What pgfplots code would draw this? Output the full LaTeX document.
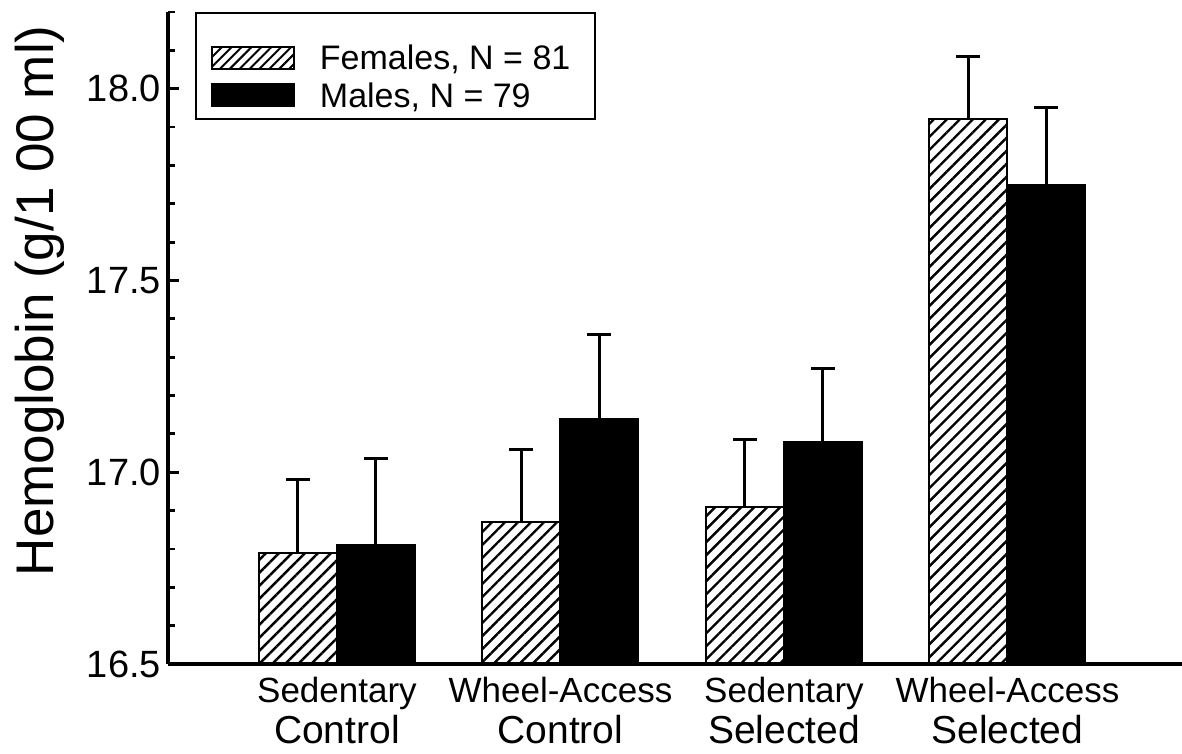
\documentclass[border=0pt]{standalone}
\usepackage{fontspec}
\setmainfont{Liberation Sans}
\usepackage{pgfplots}
\usepackage{pgfplotstable}
\pgfplotsset{compat=1.18}
\usetikzlibrary{patterns.meta}

\pgfplotstableread{
x y e
0 16.79 0.19
1 16.87 0.19
2 16.91 0.175
3 17.92 0.165
}\females
\pgfplotstableread{
x y e
0 16.81 0.225
1 17.14 0.22
2 17.08 0.19
3 17.75 0.20
}\males

\begin{document}
\begin{tikzpicture}
\begin{axis}[
  at={(0,0)}, anchor=south west,
  scale only axis, width=507pt, height=326pt,
  xmin=-0.756, xmax=3.781, ymin=16.5, ymax=18.2,
  axis x line*=bottom, axis y line*=left,
  axis line style={line width=2pt, -},
  ybar, bar width=0.349,
  xtick={0,1,2,3},
  xticklabels={
    {Sedentary\\{\fontsize{19.5}{21}\selectfont Control}},
    {Wheel-Access\\{\fontsize{19.5}{21}\selectfont Control}},
    {Sedentary\\{\fontsize{19.5}{21}\selectfont Selected}},
    {Wheel-Access\\{\fontsize{19.5}{21}\selectfont Selected}}},
  xticklabel style={align=center, font=\fontsize{17.5}{20.5}\selectfont, yshift=-3pt},
  x tick style={draw=none},
  ytick={16.5,17.0,17.5,18.0},
  minor ytick={16.6,16.7,16.8,16.9,17.1,17.2,17.3,17.4,17.6,17.7,17.8,17.9,18.1,18.2},
  tick align=inside,
  major tick length=5.5pt, minor tick length=3.5pt,
  y tick style={line width=1.4pt, black},
  /pgf/number format/assume math mode=true,
  yticklabel style={font=\fontsize{19}{22}\selectfont, /pgf/number format/.cd, fixed, fixed zerofill, precision=1},
  ylabel={Hemoglobin (g/1 00 ml)},
  ylabel style={font=\fontsize{26.5}{30}\selectfont, at={(axis description cs:-0.126,0.557)}, anchor=center},
  legend style={at={(axis description cs:0.0266,1)}, anchor=north west, draw=black, line width=1pt,
    inner xsep=7.5pt, inner ysep=2.5pt, row sep=0.8pt,
    font=\fontsize{17}{20}\selectfont,
    cells={inner xsep=0pt, inner ysep=1pt, anchor=base west}},
]
\addplot[draw=black, line width=1pt,
  pattern={Lines[angle=45,distance=4.6pt,line width=1.2pt]},
  bar shift=-0.1745,
  legend image code/.code={\draw[draw=black,line width=1pt,pattern={Lines[angle=45,distance=3.5pt,line width=1pt]}] (0pt,0.5pt) rectangle (41pt,11.5pt); \path[draw=none,fill=none] (0pt,0pt) -- (52pt,0pt) -- (52pt,26pt);},
  error bars/.cd, y dir=plus, y explicit, error mark=|,
  error bar style={line width=1.5pt, black},
  error mark options={line width=1.5pt, mark size=6pt, black}]
  table[x=x, y=y, y error=e]{\females};
\addlegendentry{Females, N = 81\rule{3pt}{0pt}}
\addplot[draw=black, fill=black, line width=1pt,
  bar shift=0.1745,
  legend image code/.code={\draw[draw=black,fill=black,line width=1pt] (0pt,0.5pt) rectangle (41pt,11.5pt); \path[draw=none,fill=none] (0pt,0pt) -- (52pt,0pt);},
  error bars/.cd, y dir=plus, y explicit, error mark=|,
  error bar style={line width=1.5pt, black},
  error mark options={line width=1.5pt, mark size=6pt, black}]
  table[x=x, y=y, y error=e]{\males};
\addlegendentry{Males, N = 79}
\end{axis}
\pgfresetboundingbox
\useasboundingbox (-84pt,-45pt) rectangle (507pt,332pt);
\end{tikzpicture}
\end{document}
